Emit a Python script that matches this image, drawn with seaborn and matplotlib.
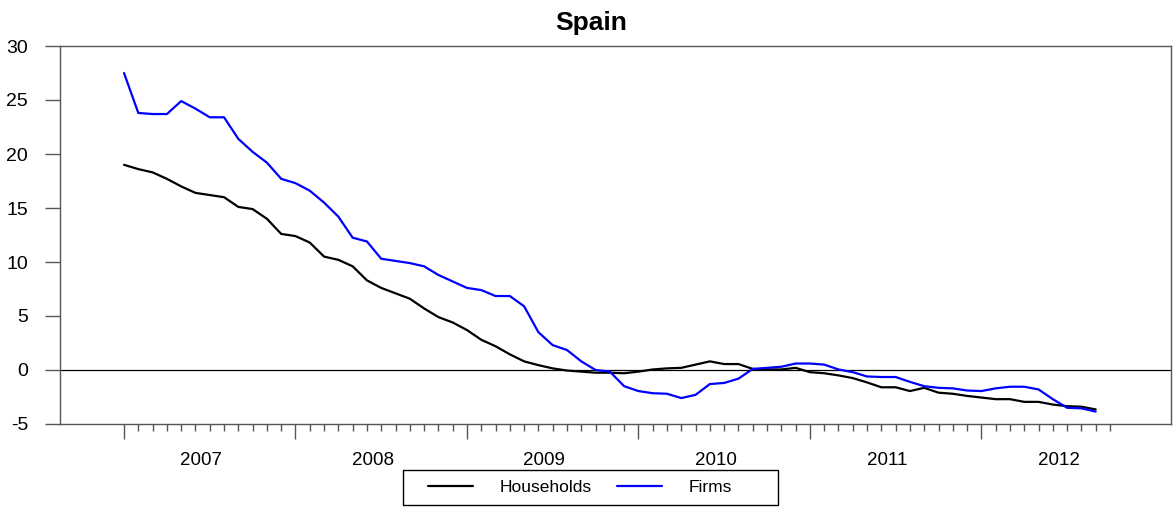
import numpy as np
import pandas as pd
import matplotlib
matplotlib.use("Agg")
import matplotlib.pyplot as plt
from matplotlib.patches import Rectangle
import seaborn as sns

# ---- data (monthly, from Jan 2007) ----
months = pd.period_range("2007-01", periods=69, freq="M")
households = [19.0, 18.6, 18.3, 17.7, 17.0, 16.4, 16.2, 16.0, 15.1, 14.9, 14.0, 12.6,
              12.4, 11.8, 10.5, 10.2, 9.6, 8.3, 7.6, 7.1, 6.6, 5.7, 4.9, 4.4,
              3.7, 2.8, 2.2, 1.45, 0.8, 0.45, 0.15, -0.05, -0.15, -0.25, -0.25, -0.3,
              -0.15, 0.05, 0.15, 0.2, 0.5, 0.8, 0.55, 0.55, 0.1, 0.05, 0.05, 0.2,
              -0.2, -0.3, -0.5, -0.75, -1.15, -1.6, -1.6, -1.95, -1.65, -2.1, -2.2, -2.4,
              -2.55, -2.7, -2.7, -2.95, -2.95, -3.2, -3.35, -3.4, -3.65]
firms = [27.5, 23.8, 23.7, 23.7, 24.9, 24.2, 23.4, 23.4, 21.4, 20.2, 19.2, 17.7,
         17.3, 16.6, 15.5, 14.2, 12.25, 11.9, 10.3, 10.1, 9.9, 9.6, 8.8, 8.2,
         7.6, 7.4, 6.85, 6.85, 5.9, 3.5, 2.3, 1.85, 0.8, 0.0, -0.15, -1.5,
         -1.95, -2.15, -2.2, -2.6, -2.3, -1.3, -1.2, -0.8, 0.1, 0.2, 0.3, 0.6,
         0.6, 0.5, 0.05, -0.2, -0.6, -0.65, -0.65, -1.1, -1.5, -1.65, -1.7, -1.9,
         -1.95, -1.7, -1.55, -1.55, -1.8, -2.7, -3.5, -3.55, -3.85]
year_labels = ["2007", "2008", "2009", "2010", "2011", "2012"]
y_ticks = [-5, 0, 5, 10, 15, 20, 25, 30]
series_names = ["Households", "Firms"]
series_colors = ["#000000", "#0000FF"]

# month index (0 = Jan 2007)
t = [(p.year - 2007) * 12 + p.month - 1 for p in months]
df = pd.DataFrame({"t": t * 2,
                   "value": households + firms,
                   "series": ["Households"] * len(t) + ["Firms"] * len(t)})

sns.set_theme(style="ticks")
plt.rcParams["font.family"] = ["Liberation Sans", "DejaVu Sans"]
plt.rcParams["text.color"] = "black"
plt.rcParams["xtick.labelcolor"] = "black"
plt.rcParams["ytick.labelcolor"] = "black"

W, H = 1173, 507
fig = plt.figure(figsize=(W / 100, H / 100), dpi=100)
ax = fig.add_axes([60 / W, 1 - 424 / H, (1171 - 60) / W, (424 - 46) / H])

sns.lineplot(data=df, x="t", y="value", hue="series", hue_order=series_names,
             palette=dict(zip(series_names, series_colors)), linewidth=1.6,
             ax=ax, legend=False)

ax.axhline(0, color="black", linewidth=0.9, zorder=1)

ax.set_xlim(-4.48, 73.27)
ax.set_ylim(-5, 30)
ax.set_xlabel("")
ax.set_ylabel("")

# x ticks: long at year starts, short monthly
ax.set_xticks(list(range(0, 61, 12)))
ax.set_xticklabels([])
ax.set_xticks([m for m in range(0, 70) if m % 12 != 0], minor=True)
ax.tick_params(axis="x", which="major", length=11, width=1, color="#555555", direction="out")
ax.tick_params(axis="x", which="minor", length=5, width=1, color="#555555", direction="out")
for k, lab in enumerate(year_labels):
    ax.text(5.4 + 12 * k, -0.097, lab, transform=ax.get_xaxis_transform(),
            ha="center", va="center", fontsize=13.5, color="black")

ax.set_yticks(y_ticks)
ax.set_yticklabels([str(v) for v in y_ticks], fontsize=14)
ax.tick_params(axis="y", length=11, width=1, color="#555555", direction="out", pad=12)

for side, sp in ax.spines.items():
    sp.set_visible(True)
    sp.set_color("#555555")
    sp.set_linewidth(1.0)

fig.text(591 / W, 1 - 23 / H, "Spain", ha="center", va="center",
         fontsize=19, fontweight="bold", color="black")

# legend: frame drawn as a rectangle, entries placed inside
fig.patches.append(Rectangle((403 / W, 1 - 505 / H), (778 - 403) / W, (505 - 470) / H,
                             transform=fig.transFigure, fill=False,
                             edgecolor="black", linewidth=1.0))
handles = ax.get_lines()[:2]
leg = fig.legend(handles, series_names, loc="center left",
                 bbox_to_anchor=(428 / W, 1 - 487.5 / H),
                 ncol=2, frameon=False, fontsize=12.5,
                 handlelength=2.6, handletextpad=1.5, columnspacing=1.5,
                 borderpad=0.0, borderaxespad=0.0)

fig.savefig("out.png", dpi=100)
